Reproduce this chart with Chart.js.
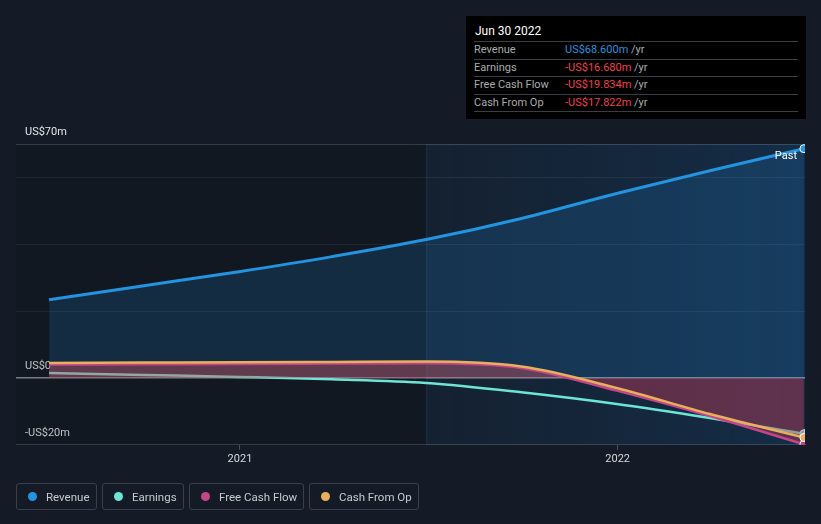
<!DOCTYPE html>
<html>
<head>
<meta charset="utf-8">
<script src="https://cdn.jsdelivr.net/npm/chart.js@4.4.1/dist/chart.umd.min.js"></script>
<style>
  html, body { margin:0; padding:0; background:#151b26; }
  body { width:821px; height:524px; position:relative; overflow:hidden; font-family: Roboto, "Open Sans", sans-serif; }
  #wrap { position:absolute; left:0; top:0; width:821px; height:524px; }
  #tip { position:absolute; left:466px; top:16px; width:340px; height:103px; background:#000; box-sizing:border-box; padding:0 8px; }
  #tip .date { color:#fff; font-size:12px; height:25px; line-height:30px; padding-left:1px; }
  #tip .row { border-top:1px solid #3a3d44; height:16.5px; line-height:16.5px; font-size:11px; color:#a9abae; position:relative; }
  #tip .row:last-child { border-bottom:1px solid #3a3d44; }
  #tip .row span.v { position:absolute; left:91px; }
  #tip .unit { color:#a9abae; }
  #legend { position:absolute; left:16px; top:483px; display:flex; gap:5px; }
  .lg { height:27px; border:1px solid #3a3f4a; border-radius:3px; box-sizing:border-box; display:flex; align-items:center; padding:0 0 0 11px; color:#c8cacd; font-size:11.5px; white-space:nowrap; flex-shrink:0; }
  .lg i { width:9px; height:9px; border-radius:50%; display:inline-block; margin-right:9px; flex-shrink:0; }
</style>
</head>
<body>
<div id="wrap"><canvas id="c" width="821" height="524"></canvas></div>
<div id="tip">
  <div class="date">Jun 30 2022</div>
  <div class="row">Revenue<span class="v"><span style="color:#2394df">US$68.600m</span> <span class="unit">/yr</span></span></div>
  <div class="row">Earnings<span class="v"><span style="color:#f0414a">-US$16.680m</span> <span class="unit">/yr</span></span></div>
  <div class="row">Free Cash Flow<span class="v"><span style="color:#f0414a">-US$19.834m</span> <span class="unit">/yr</span></span></div>
  <div class="row">Cash From Op<span class="v"><span style="color:#f0414a">-US$17.822m</span> <span class="unit">/yr</span></span></div>
</div>
<div id="legend">
  <div class="lg" style="width:81px"><i style="background:#2394df"></i>Revenue</div>
  <div class="lg" style="width:82px"><i style="background:#6ce5d4"></i>Earnings</div>
  <div class="lg" style="width:115px"><i style="background:#c5458a"></i>Free Cash Flow</div>
  <div class="lg" style="width:110px"><i style="background:#e8b05c"></i>Cash From Op</div>
</div>
<script>
// ---- data (US$ millions, trailing twelve months) ----
const periods  = ['2020-06-30','2020-09-30','2020-12-31','2021-03-31','2021-06-30','2021-09-30','2021-12-31','2022-03-31','2022-06-30'];
const revenue  = [23.4, 27.6, 31.8, 36.3, 41.4, 47.7, 55.2, 62.0, 68.6];
const earnings = [1.5, 0.9, 0.3, -0.4, -1.5, -4.3, -7.8, -12.0, -16.68];
const fcf      = [4.0, 4.1, 4.2, 4.3, 4.4, 3.0, -3.8, -11.4, -19.834];
const cfo      = [4.5, 4.6, 4.7, 4.8, 4.9, 3.4, -3.0, -10.8, -17.822];
const xTicks   = [2021, 2022];
const yTicks   = [-20, 0, 20, 40, 60, 70];
const yLabels  = {70:'US$70m', 0:'US$0', '-20':'-US$20m'};

function toYear(s){
  const d = new Date(s + 'T00:00:00Z');
  const y = d.getUTCFullYear();
  const start = Date.UTC(y,0,1), end = Date.UTC(y+1,0,1);
  return y + (d.getTime()-start)/(end-start);
}
const xs = periods.map(toYear);
const pts = arr => arr.map((v,i)=>({x:xs[i], y:v}));
const last = periods.length-1;
const pastStart = toYear('2021-06-30');

const bgPlugin = {
  id:'bg',
  beforeDatasetsDraw(chart){
    const {ctx, chartArea:a, scales:{x}} = chart;
    const px = x.getPixelForValue(pastStart);
    ctx.save();
    const g = ctx.createLinearGradient(px,0,a.right,0);
    g.addColorStop(0,'rgba(20,90,150,0.10)');
    g.addColorStop(1,'rgba(20,100,170,0.25)');
    ctx.fillStyle = g;
    ctx.fillRect(px, a.top, a.right-px, a.bottom-a.top);
    ctx.fillStyle = 'rgba(8,10,16,0.18)';
    ctx.fillRect(a.left, a.top, px-a.left, a.bottom-a.top);
    ctx.strokeStyle = 'rgba(60,110,150,0.25)';
    ctx.lineWidth = 1;
    ctx.beginPath(); ctx.moveTo(px+0.5,a.top); ctx.lineTo(px+0.5,a.bottom); ctx.stroke();
    ctx.restore();
  },
  afterDatasetsDraw(chart){
    const {ctx, chartArea:a} = chart;
    ctx.save();
    ctx.fillStyle = '#ffffff';
    ctx.font = '11px Roboto, sans-serif';
    ctx.textAlign = 'right';
    ctx.textBaseline = 'middle';
    ctx.fillText('Past', a.right-8, a.top+12);
    ctx.restore();
  }
};

const lastOnly = r => ctx => ctx.dataIndex === last ? r : 0;

new Chart(document.getElementById('c'), {
  type:'line',
  data:{
    datasets:[
      { label:'Cash From Op', data:pts(cfo), borderColor:'#e8b05c', borderWidth:2.5, fill:false, order:0,
        pointRadius:lastOnly(4), pointBackgroundColor:'#e8b05c', pointBorderColor:'#fff', pointBorderWidth:1 },
      { label:'Free Cash Flow', data:pts(fcf), borderColor:'#c5458a', borderWidth:2.5, order:1,
        fill:{target:'origin', above:'rgba(200,80,95,0.42)', below:'rgba(200,60,90,0.42)'},
        pointRadius:lastOnly(4), pointBackgroundColor:'#c5458a', pointBorderColor:'#fff', pointBorderWidth:1 },
      { label:'Earnings', data:pts(earnings), borderColor:'#6ce5d4', borderWidth:2.5, fill:false, order:2,
        pointRadius:lastOnly(4), pointBackgroundColor:'#6ce5d4', pointBorderColor:'#fff', pointBorderWidth:1 },
      { label:'Revenue', data:pts(revenue), borderColor:'#2394df', borderWidth:3, order:3,
        fill:{target:'origin', above:'rgba(35,140,215,0.18)', below:'rgba(0,0,0,0)'},
        pointRadius:lastOnly(4), pointBackgroundColor:'#2394df', pointBorderColor:'#fff', pointBorderWidth:1 }
    ]
  },
  options:{
    responsive:false, animation:false,
    layout:{ padding:{left:16, right:16, top:144, bottom:55} },
    elements:{ line:{ cubicInterpolationMode:'monotone' } },
    plugins:{ legend:{display:false}, tooltip:{enabled:false} },
    scales:{
      x:{
        type:'linear', min:2020.407, max:2022.496,
        afterBuildTicks: s => { s.ticks = xTicks.map(v=>({value:v})); },
        ticks:{ color:'#d8d9db', font:{size:11, family:'Roboto'}, padding:3, callback:v=>String(v) },
        grid:{ display:true, drawOnChartArea:false, drawTicks:true, tickLength:5, color:'#4a4e57' },
        border:{ display:true, color:'#3f434c' }
      },
      y:{
        min:-20, max:70,
        afterBuildTicks: s => { s.ticks = yTicks.map(v=>({value:v})); },
        afterFit: s => { s.width = 0; },
        ticks:{ mirror:true, padding:9, labelOffset:-12, color:'#e4e5e7', font:{size:11, family:'Roboto'},
                callback:v => yLabels[v] || '' },
        grid:{ drawTicks:false,
               color: c => c.tick.value === 0 ? 'rgba(190,190,195,0.75)' : (c.tick.value===70||c.tick.value===-20 ? '#41454e' : '#262b36'),
               lineWidth: c => c.tick.value === 0 ? 1.5 : 1 },
        border:{ display:false }
      }
    }
  },
  plugins:[bgPlugin]
});
</script>
</body>
</html>
